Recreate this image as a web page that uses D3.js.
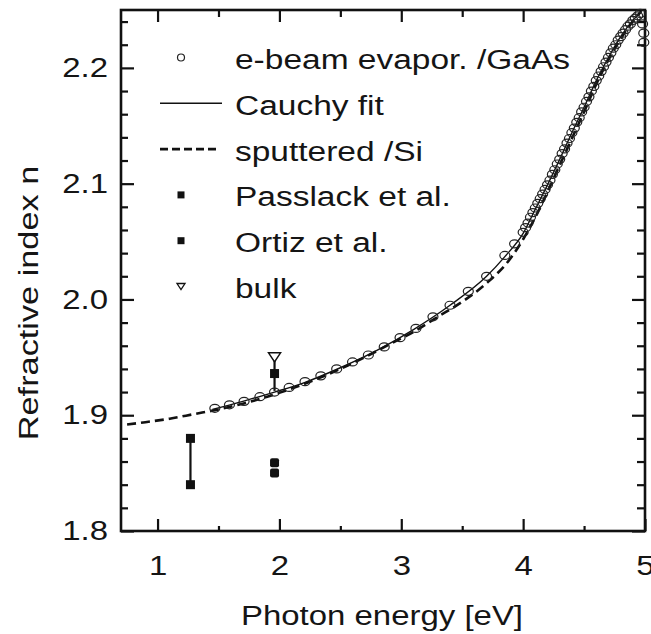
<!DOCTYPE html>
<html><head><meta charset="utf-8">
<script src="https://cdn.jsdelivr.net/npm/d3@7"></script>
<style>
body{margin:0;background:#fff}
text{font-family:"Liberation Sans",Arial,Helvetica,sans-serif;fill:#151515}
</style>
</head><body><svg id="c" width="651" height="634"></svg>
<script>
// ---------- data ----------
const ebeamE = [1.47,1.59,1.71,1.84,1.96,2.08,2.21,2.34,2.47,2.60,2.73,2.86,2.99,3.12,3.26,3.40,3.55,3.70,3.85,3.93,
  4.00,4.02,4.04,4.06,4.08,4.10,4.12,4.14,4.16,4.18,4.20,4.22,4.24,4.26,4.28,4.30,4.32,4.34,4.36,4.38,4.40,4.42,4.44,4.46,4.48,
  4.50,4.52,4.54,4.56,4.58,4.60,4.62,4.64,4.66,4.68,4.70,4.72,4.74,4.76,4.78,4.80,4.82,4.84,4.86,4.88,4.90,4.92,4.94,4.96,4.98,4.99,4.99];
const ebeamN = [1.906,1.909,1.912,1.916,1.920,1.924,1.929,1.934,1.940,1.946,1.952,1.959,1.967,1.975,1.985,1.995,2.007,2.020,2.038,2.048,
  2.058,2.062,2.066,2.071,2.075,2.079,2.083,2.087,2.091,2.095,2.099,2.103,2.108,2.112,2.117,2.121,2.126,2.130,2.135,2.139,2.144,2.148,2.153,2.157,2.162,
  2.166,2.171,2.175,2.180,2.184,2.189,2.193,2.197,2.201,2.205,2.209,2.213,2.217,2.220,2.224,2.227,2.230,2.233,2.236,2.238,2.241,2.243,2.245,2.247,2.238,2.230,2.222];

const cauchyE = [1.45,1.70,1.96,2.20,2.50,2.80,3.10,3.40,3.70,3.85,4.00,4.10,4.20,4.30,4.40,4.50,4.60,4.70,4.80,4.90,4.97];
const cauchyN = [1.905,1.912,1.920,1.928,1.941,1.956,1.974,1.995,2.020,2.037,2.057,2.078,2.099,2.121,2.144,2.166,2.189,2.209,2.227,2.241,2.249];

const sputE = [0.75,0.90,1.10,1.30,1.50,1.70,1.90,2.10,2.30,2.50,2.70,2.90,3.10,3.30,3.50,3.70,3.90,4.00,4.10,4.20,4.30,4.40,4.50,4.60,4.70,4.80,4.90,4.97];
const sputN = [1.892,1.894,1.897,1.901,1.905,1.910,1.916,1.923,1.931,1.940,1.950,1.961,1.972,1.985,1.998,2.014,2.036,2.052,2.071,2.093,2.116,2.139,2.162,2.186,2.207,2.225,2.240,2.249];

const passlackE = [1.27,1.27,1.96];
const passlackN = [1.880,1.840,1.936];
const ortizE = [1.96,1.96];
const ortizN = [1.859,1.850];
const bulkE = [1.96];
const bulkN = [1.950];
const barE  = [1.27,1.96];
const barLo = [1.840,1.921];
const barHi = [1.880,1.950];

const xTicks = [1,2,3,4,5];
const xMinor = [1.5,2.5,3.5,4.5];
const yTicks = [1.8,1.9,2.0,2.1,2.2];
const yMinor = [1.82,1.84,1.86,1.88,1.92,1.94,1.96,1.98,2.02,2.04,2.06,2.08,2.12,2.14,2.16,2.18,2.22,2.24];

const legendLabels = ["e-beam evapor. /GaAs","Cauchy fit","sputtered /Si","Passlack et al.","Ortiz et al.","bulk"];
const xTitle = "Photon energy [eV]";
const yTitle = "Refractive index n";

// ---------- layout ----------
const L=121, R=645, T=10, B=531;
const FS=27, STRETCH=1.22;
const svg = d3.select("#c");
const x = d3.scaleLinear().domain([0.7,5]).range([L,R]);
const y = d3.scaleLinear().domain([1.8,2.25]).range([B,T]);

function stretch(sel,f){ sel.each(function(){ const w=this.getComputedTextLength(); this.setAttribute("textLength",w*f); this.setAttribute("lengthAdjust","spacingAndGlyphs"); }); }

function styleAxis(g){ g.select(".domain").remove(); g.selectAll("line").attr("stroke","#111").attr("stroke-width",2.2); g.selectAll("text").attr("font-size",FS).attr("fill","#151515").attr("font-family",null); }

// major + minor ticks
const gB = svg.append("g").attr("transform",`translate(0,${B})`).call(d3.axisBottom(x).tickValues(xTicks).tickSize(-12).tickPadding(25).tickFormat(d3.format("d"))).call(styleAxis);
svg.append("g").attr("transform",`translate(0,${B})`).call(d3.axisBottom(x).tickValues(xMinor).tickSize(-5).tickFormat("")).call(styleAxis);
svg.append("g").attr("transform",`translate(0,${T})`).call(d3.axisTop(x).tickValues(xTicks).tickSize(-12).tickFormat("")).call(styleAxis);
svg.append("g").attr("transform",`translate(0,${T})`).call(d3.axisTop(x).tickValues(xMinor).tickSize(-7).tickFormat("")).call(styleAxis);
const gL = svg.append("g").attr("transform",`translate(${L},0)`).call(d3.axisLeft(y).tickValues(yTicks).tickSize(-13).tickPadding(13).tickFormat(d3.format(".1f"))).call(styleAxis);
svg.append("g").attr("transform",`translate(${L},0)`).call(d3.axisLeft(y).tickValues(yMinor).tickSize(-7).tickFormat("")).call(styleAxis);
svg.append("g").attr("transform",`translate(${R},0)`).call(d3.axisRight(y).tickValues(yTicks).tickSize(-13).tickFormat("")).call(styleAxis);
svg.append("g").attr("transform",`translate(${R},0)`).call(d3.axisRight(y).tickValues(yMinor).tickSize(-8).tickFormat("")).call(styleAxis);
stretch(gB.selectAll("text"),STRETCH);
stretch(gL.selectAll("text"),STRETCH);

// frame
svg.append("rect").attr("x",L).attr("y",T).attr("width",R-L).attr("height",B-T)
  .attr("fill","none").attr("stroke","#111").attr("stroke-width",2.6);

// axis titles
const xt = svg.append("text").attr("x",(L+R)/2 - 1).attr("y",625).attr("text-anchor","middle").attr("font-size",FS).text(xTitle);
stretch(xt,STRETCH);
const yt = svg.append("text").attr("transform","translate(38,303) rotate(-90)").attr("text-anchor","middle").attr("font-size",FS).text(yTitle);
stretch(yt,1.27);

// curves
const line = d3.line().curve(d3.curveMonotoneX);
const plot = svg.append("g");
plot.append("path").attr("d",line(sputE.map((e,i)=>[x(e),y(sputN[i])])))
  .attr("fill","none").attr("stroke","#111").attr("stroke-width",2.6).attr("stroke-dasharray","9,5");
plot.append("path").attr("d",line(cauchyE.map((e,i)=>[x(e),y(cauchyN[i])])))
  .attr("fill","none").attr("stroke","#111").attr("stroke-width",1.4);

// error bars
plot.selectAll(".bar").data(barE).join("line")
  .attr("x1",d=>x(d)).attr("x2",d=>x(d)).attr("y1",(d,i)=>y(barLo[i])).attr("y2",(d,i)=>y(barHi[i]))
  .attr("stroke","#111").attr("stroke-width",2.2);

// e-beam circles
plot.selectAll(".eb").data(ebeamE).join("ellipse")
  .attr("cx",d=>x(d)).attr("cy",(d,i)=>y(ebeamN[i])).attr("rx",5).attr("ry",4)
  .attr("fill","none").attr("stroke","#222").attr("stroke-width",1.2);

// squares
const sq=9;
plot.selectAll(".pl").data(passlackE).join("rect")
  .attr("x",d=>x(d)-sq/2).attr("y",(d,i)=>y(passlackN[i])-sq/2).attr("width",sq).attr("height",sq).attr("fill","#111");
plot.selectAll(".oz").data(ortizE).join("rect")
  .attr("x",d=>x(d)-sq/2).attr("y",(d,i)=>y(ortizN[i])-sq/2).attr("width",sq).attr("height",sq).attr("rx",2).attr("fill","#111");

// bulk triangle
function tri(cx,cy,w,h){ return `M${cx-w/2},${cy-h/2}L${cx+w/2},${cy-h/2}L${cx},${cy+h/2}Z`; }
plot.selectAll(".bk").data(bulkE).join("path")
  .attr("d",(d,i)=>tri(x(d),y(bulkN[i]),12,9)).attr("fill","#fff").attr("stroke","#111").attr("stroke-width",1.5);

// legend
const lgX=181, lgTx=235, lgY0=69, lgDy=45.8;
const lg = svg.append("g");
legendLabels.forEach((lab,i)=>{
  const by = lgY0 + i*lgDy, cy = by - 11.5;
  if(i===0) lg.append("circle").attr("cx",lgX).attr("cy",cy).attr("r",3.5).attr("fill","none").attr("stroke","#222").attr("stroke-width",1.2);
  if(i===1) lg.append("line").attr("x1",160).attr("x2",222).attr("y1",cy).attr("y2",cy).attr("stroke","#111").attr("stroke-width",1.6);
  if(i===2) lg.append("line").attr("x1",160).attr("x2",220).attr("y1",cy).attr("y2",cy).attr("stroke","#111").attr("stroke-width",2.6).attr("stroke-dasharray","8,4");
  if(i===3||i===4) lg.append("rect").attr("x",lgX-3.5).attr("y",cy-3.5).attr("width",7).attr("height",7).attr("fill","#111");
  if(i===5) lg.append("path").attr("d",tri(lgX,cy,8,6)).attr("fill","#fff").attr("stroke","#111").attr("stroke-width",1.3);
  const t = lg.append("text").attr("x",lgTx).attr("y",by).attr("font-size",FS).text(lab);
  stretch(t,1.24);
});
</script>
</body></html>
